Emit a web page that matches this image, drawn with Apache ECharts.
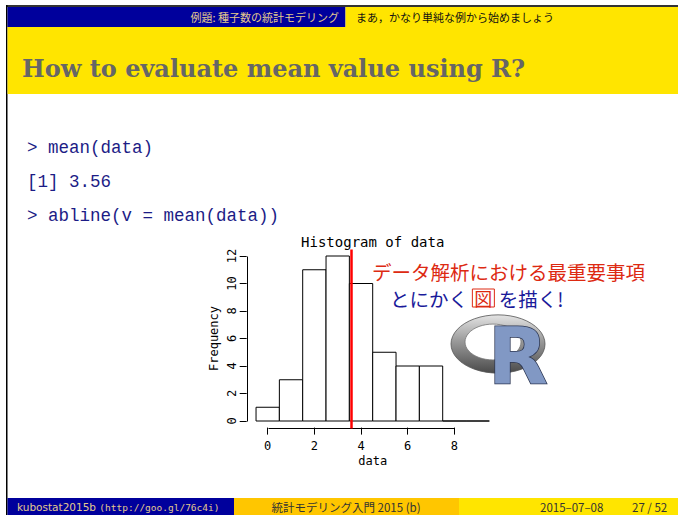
<!DOCTYPE html>
<html lang="ja">
<head>
  <meta charset="UTF-8">
  <title>How to evaluate mean value using R?</title>
  <script src="https://cdn.jsdelivr.net/npm/echarts@6/dist/echarts.min.js"></script>
  <style>
    html, body { margin: 0; padding: 0; background: #fff; }
    #main { width: 678px; height: 515px; }
  </style>
</head>
<body>
  <div id="main"></div>
  <script>
    // hist(data) の階級(左端)と度数
    const binStarts = [-0.5, 0.5, 1.5, 2.5, 3.5, 4.5, 5.5, 6.5, 7.5, 8.5]
    const counts = [1, 3, 11, 12, 10, 5, 4, 4, 0, 0]
    const binWidth = 1
    // abline(v = mean(data))
    const meanValue = 3.56
    // 軸の目盛り
    const xTicks = [0, 2, 4, 6, 8]
    const yTicks = [0, 2, 4, 6, 8, 10, 12]

    // R のプロット領域 (4% 拡張)
    const xMin = -0.9, xMax = 9.9
    const yMin = -0.48, yMax = 12.48

    const myChart = echarts.init(document.getElementById('main'), null, { renderer: 'svg' })

    const navy = '#00009c'
    const yellow = '#ffe500'
    const gold = '#e3c98e'
    const jp = '"Noto Sans CJK JP", sans-serif'
    const rfont = '"DejaVu Sans Mono", monospace'
    const tt = '17.5px "Liberation Mono", "Courier New", monospace'

    // 軸線と平均線: [x1, y1, x2, y2, 色, 太さ]
    const segments = [
      [xTicks[0], yMin, xTicks[xTicks.length - 1], yMin, '#000', 1],
      [xMin, yTicks[0], xMin, yTicks[yTicks.length - 1], '#000', 1],
      [meanValue, yMin, meanValue, yMax, '#ff0000', 2.5]
    ]

    const crisp = v => Math.round(v) + 0.5

    const option = {
      animation: false,
      backgroundColor: '#fff',
      grid: { left: 246.7, right: 179.3, top: 249.4, bottom: 87.4 },
      title: {
        text: 'Histogram of data',
        left: 372.7,
        top: 235,
        textAlign: 'center',
        padding: 0,
        textStyle: { fontFamily: rfont, fontSize: 14, fontWeight: 'normal', color: '#000' }
      },
      xAxis: {
        type: 'value',
        min: xMin,
        max: xMax,
        splitLine: { show: false },
        axisLine: { show: false, onZero: false },
        axisTick: { show: true, customValues: xTicks, length: 7, lineStyle: { color: '#000', width: 1 } },
        axisLabel: { customValues: xTicks, margin: 12, color: '#000', fontFamily: rfont, fontSize: 12 },
        name: 'data',
        nameLocation: 'middle',
        nameGap: 27,
        nameTextStyle: { color: '#000', fontFamily: rfont, fontSize: 12 }
      },
      yAxis: {
        type: 'value',
        min: yMin,
        max: yMax,
        splitLine: { show: false },
        axisLine: { show: false, onZero: false },
        axisTick: { show: true, customValues: yTicks, length: 7, lineStyle: { color: '#000', width: 1 } },
        axisLabel: { customValues: yTicks, rotate: 90, margin: 9, color: '#000', fontFamily: rfont, fontSize: 12 },
        name: 'Frequency',
        nameLocation: 'middle',
        nameGap: 27,
        nameTextStyle: { color: '#000', fontFamily: rfont, fontSize: 12 }
      },
      series: [
        {
          // ヒストグラムの棒
          type: 'custom',
          data: binStarts.map((s, i) => [s, s + binWidth, counts[i]]),
          encode: { x: [0, 1], y: 2 },
          renderItem(params, api) {
            const p0 = api.coord([api.value(0), 0])
            const p1 = api.coord([api.value(1), api.value(2)])
            return {
              type: 'rect',
              shape: { x: p0[0], y: p1[1], width: p1[0] - p0[0], height: p0[1] - p1[1] },
              style: { fill: '#fff', stroke: '#000', lineWidth: 1 }
            }
          }
        },
        {
          // 軸線 (R 風に目盛りの範囲だけ) と abline
          type: 'custom',
          silent: true,
          clip: false,
          z: 5,
          data: segments,
          encode: { x: [0, 2], y: [1, 3] },
          renderItem(params, api) {
            const s = segments[params.dataIndex]
            const a = api.coord([s[0], s[1]])
            const b = api.coord([s[2], s[3]])
            return {
              type: 'line',
              shape: { x1: crisp(a[0]), y1: crisp(a[1]), x2: crisp(b[0]), y2: crisp(b[1]) },
              style: { stroke: s[4], lineWidth: s[5] }
            }
          }
        }
      ],
      graphic: [
        // 枠線
        { type: 'rect', shape: { x: 6, y: 5, width: 672, height: 2 }, style: { fill: '#333' } },
        { type: 'rect', shape: { x: 6, y: 5, width: 1.5, height: 510 }, style: { fill: '#000' } },
        // ヘッダー
        { type: 'rect', shape: { x: 7.5, y: 7, width: 338, height: 20 }, style: { fill: navy } },
        { type: 'rect', shape: { x: 345.5, y: 7, width: 333, height: 20 }, style: { fill: yellow } },
        { type: 'rect', shape: { x: 7.5, y: 27, width: 671, height: 67 }, style: { fill: yellow } },
        { type: 'text', x: 339, y: 17, style: { text: '例題: 種子数の統計モデリング', font: '11px ' + jp, fill: gold, align: 'right', verticalAlign: 'middle' } },
        { type: 'text', x: 356, y: 17, style: { text: 'まあ，かなり単純な例から始めましょう', font: '11px ' + jp, fill: '#111', align: 'left', verticalAlign: 'middle' } },
        { type: 'text', x: 22, y: 68, style: { text: 'How to evaluate mean value using R?', font: 'bold 24px "DejaVu Serif", serif', fill: '#666666', verticalAlign: 'middle' } },
        // R のコード
        { type: 'text', x: 27, y: 148, style: { text: '> mean(data)', font: tt, fill: '#1c1c86', verticalAlign: 'middle' } },
        { type: 'text', x: 27, y: 182, style: { text: '[1] 3.56', font: tt, fill: '#1c1c86', verticalAlign: 'middle' } },
        { type: 'text', x: 27, y: 216, style: { text: '> abline(v = mean(data))', font: tt, fill: '#1c1c86', verticalAlign: 'middle' } },
        // 注釈
        { type: 'text', x: 372, y: 271, style: { text: 'データ解析における最重要事項', font: '19.5px ' + jp, fill: '#dd2a12', verticalAlign: 'middle' } },
        {
          type: 'text', x: 390, y: 298,
          style: {
            text: '{b|とにかく }{r|図}{b| を描く!}',
            verticalAlign: 'middle',
            rich: {
              b: { font: '19.5px ' + jp, fill: '#1a1a9a' },
              r: { font: '18px ' + jp, fill: '#dd2a12', borderColor: '#dd2a12', borderWidth: 1, padding: [0, 2, 0, 2] }
            }
          }
        },
        // R のロゴ
        {
          type: 'circle', x: 498, y: 344, scaleY: 0.62,
          shape: { cx: 0, cy: 0, r: 47 },
          style: {
            fill: new echarts.graphic.LinearGradient(0, 0, 0, 1, [
              { offset: 0, color: '#e4e4e4' },
              { offset: 0.45, color: '#9a9a9a' },
              { offset: 1, color: '#4a4a4a' }
            ]),
            stroke: '#555', lineWidth: 1
          }
        },
        {
          type: 'circle', x: 493, y: 342, scaleY: 0.64,
          shape: { cx: 0, cy: 0, r: 28 },
          style: { fill: '#fff', stroke: '#777', lineWidth: 1 }
        },
        { type: 'text', x: 518, y: 357, style: { text: 'R', font: 'bold 78px "DejaVu Sans", sans-serif', fill: '#8198c4', stroke: '#2c3652', lineWidth: 1.5, align: 'center', verticalAlign: 'middle' } },
        // フッター
        { type: 'rect', shape: { x: 7.5, y: 498, width: 226.5, height: 17 }, style: { fill: navy } },
        { type: 'rect', shape: { x: 234, y: 498, width: 225, height: 17 }, style: { fill: '#ffc600' } },
        { type: 'rect', shape: { x: 459, y: 498, width: 219, height: 17 }, style: { fill: yellow } },
        {
          type: 'text', x: 17, y: 507,
          style: {
            text: '{a|kubostat2015b }{b|(http://goo.gl/76c4i)}',
            verticalAlign: 'middle',
            rich: {
              a: { font: '10.5px "DejaVu Sans", sans-serif', fill: gold },
              b: { font: '9.5px "DejaVu Sans Mono", monospace', fill: gold }
            }
          }
        },
        { type: 'text', x: 346, y: 507, style: { text: '統計モデリング入門 2015 (b)', font: '11.5px ' + jp, fill: '#333', align: 'center', verticalAlign: 'middle' } },
        { type: 'text', x: 540, y: 507, style: { text: '2015–07–08', font: '11.5px ' + jp, fill: '#333', verticalAlign: 'middle' } },
        { type: 'text', x: 632, y: 507, style: { text: '27 / 52', font: '11.5px ' + jp, fill: '#333', verticalAlign: 'middle' } }
      ]
    }

    myChart.setOption(option)
  </script>
</body>
</html>
